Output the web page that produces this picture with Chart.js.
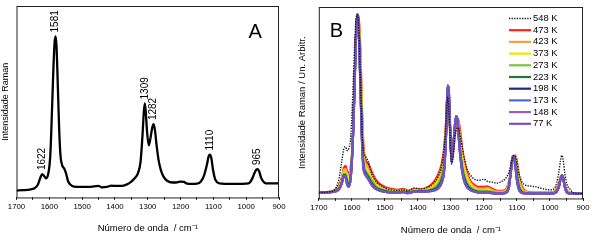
<!DOCTYPE html>
<html>
<head>
<meta charset="utf-8">
<script src="https://cdn.jsdelivr.net/npm/chart.js@4"></script>
<style>
  body { margin: 0; background: #fff; width: 594px; height: 243px; overflow: hidden; position: relative; }
  .painel { position: absolute; top: 0; width: 297px; height: 243px; }
  #painelA { left: 0; }
  #painelB { left: 297px; }
</style>
</head>
<body>
<div class="painel" id="painelA"><canvas id="graficoA"></canvas></div>
<div class="painel" id="painelB"><canvas id="graficoB"></canvas></div>
<script>
// ---- Painel A : espectro Raman ----
const numeroOndaA = [1700,1680,1660,1645,1635,1628,1622,1616,1610,1603,1597,1592,1588,1584,1581,1578,1574,1570,1566,1561,
  1555,1549,1543,1535,1525,1500,1475,1450,1440,1425,1410,1400,1380,1365,1350,1340,1330,1322,1316,1312,
  1309,1306,1302,1297,1292,1286,1282,1278,1273,1267,1260,1252,1240,1225,1210,1200,1190,1180,1165,1150,
  1138,1128,1120,1114,1110,1106,1101,1095,1088,1075,1050,1025,1000,990,982,975,970,965,960,955,948,940,925,900];
const intensidadeA = [3.6,3.8,4.1,4.8,6.6,10,12.2,11.2,10,12.6,22,44.5,65,80.7,84.1,79,58,35.9,22,16.9,
  15.2,12.6,8.6,6.6,5.7,5.5,5.5,6,5.3,5.5,6.2,6,6,6.7,8.3,10,12.6,18.6,32.4,44.5,
  49.1,44.5,34.1,27.2,30.7,36.7,38.3,35,27.2,19.5,14.3,10.9,8.6,7.8,7.9,8.3,8.1,7.2,7.1,7.2,
  8.3,11.7,16.9,21.7,22.4,20.3,14.3,9.7,7.9,7.2,7.1,7.1,7.2,7.6,9.7,12.6,14.3,14.8,13.4,10.5,8.3,7.4,7.3,7.4];
const picosA = [1622, 1581, 1309, 1282, 1110, 965];

// ---- Painel B : espectros em varias temperaturas ----
const numeroOndaB = [1700,1670,1650,1638,1630,1624,1619,1614,1609,1603,1597,1592,1588,1584,1581,1578,1574,1570,1565,1558,
  1550,1540,1528,1515,1500,1480,1460,1445,1430,1410,1395,1375,1355,1340,1328,1320,1314,1310,1306,1302,
  1298,1293,1288,1284,1280,1276,1271,1265,1258,1250,1240,1228,1215,1200,1190,1175,1160,1145,1132,1124,
  1118,1113,1109,1105,1100,1094,1086,1075,1060,1040,1020,1000,988,980,973,968,964,960,955,948,940,930,915,900];
const temperaturasB = ["548 K","473 K","423 K","373 K","273 K","223 K","198 K","173 K","148 K","77 K"];

const int548 = [3,3.5,5,11,20, 26,27,25,26,33, 55,78,92,96,94, 85,62,40,25,22, 19,13,9,7,5.5, 4.5,4.2,4.5,4,5.5,
  5,5.5,7.5,11,17, 28,42,53,46,30, 18,22,32,36,37, 36,32,26,20,15, 12,10,9.5,10,9, 8.5,8,9,11,14,
  18,21,22.5,22,19, 13,9,7,6.5,6, 5,4.5,5,8,14, 20,22.5,20,13,7, 5,3,2.5,2.5];
const int473 = [3,3.5,4.5,7,11, 16,17,14,13.5,17, 30,55,80,94,96, 92,78,52,28,20, 18,14,10,7.5,6, 5,4.5,5,4,5,
  4.8,5.5,8,12,18, 27,42,52,48,33, 20,24,33,39,42, 40,34,25,18,13, 9,7,6,6,6.3, 5,4,4,5,9,
  14,19,22,22.5,19, 12,6.5,4,3.2,3, 3,3,3.5,5,8, 11,12,11,7,4, 3,2.8,2.7,2.7];
const int423 = [3,3.4,4.2,6.5,10, 15,15.5,12.5,12,16, 30,56,81,95,96, 90,74,48,25,18, 16,12.5,8.5,6.5,5.2, 4.5,4,4.5,3.7,4.6,
  4.4,5,7,10.5,16, 24,40,54,51,34, 20,25,34,40,42, 38,31,23,16,11.5, 8,6,5.2,5.2,5.5, 4.3,3.6,3.6,4.5,8.5,
  14,20,22,22,18, 10.5,5.5,3.6,3,2.8, 2.8,2.8,3.3,4.6,7.5, 11,12,11,6.8,3.7, 2.9,2.7,2.6,2.6];
const int373 = [3,3.3,4,6,9.5, 14,14,11,10.5,15, 30,56,81,95,96, 88,70,44,22,16, 14,11,7.5,6,4.8, 4,3.7,4.2,3.4,4.3,
  4.2,4.6,6,9,14, 22,39,55,52,34, 20,26,35,41,42, 36,28,20,14,10, 7,5.2,4.5,4.5,4.8, 3.8,3.2,3.2,4,8,
  14,20,22,21.5,16, 9,4.8,3.3,2.8,2.7, 2.7,2.7,3.1,4.3,7, 10.5,12,10.8,6.5,3.5, 2.8,2.6,2.6,2.6];
const int273 = [3,3.3,3.9,5.6,9, 13,13,9.5,9,13.5, 30,57,81,95,95, 86,66,40,20,14.5, 12.5,9.5,6.5,5,4.3, 3.6,3.4,3.8,3.2,4,
  4,4.2,5.2,7.5,12, 20,38,57,53,34, 20,26,36,42,42, 34,25,17,11.5,8, 5.8,4.5,4,4,4, 3.4,3,3,3.6,7.5,
  14.5,21,22,20,14, 7.5,4,3,2.7,2.6, 2.6,2.6,2.9,4,6.8, 10.3,12,10.6,6.3,3.3, 2.7,2.6,2.5,2.5];
const int223 = [3,3.2,3.8,5.3,8.6, 12.3,12,8.5,7.5,12.5, 30,57,82,96,95, 84,63,37,18,13.5, 11.3,8.3,5.8,4.6,3.9, 3.3,3.2,3.5,3,3.8,
  3.8,3.9,4.6,6.2,10, 17,37,59,54,34, 19.5,27,37,43,41, 33,23,15,10,6.8, 5,4,3.5,3.5,3.5, 3,2.8,2.8,3.3,7,
  15,21.5,22,19,12, 6,3.6,2.8,2.6,2.5, 2.5,2.5,2.8,3.8,6.5, 10.2,12,10.6,6.2,3.2, 2.6,2.5,2.5,2.5];
const int198 = [3,3.2,3.7,5.1,8.3, 12,11.5,7.8,6.8,11.8, 30,58,82,96,94.5, 83,60,35,17,12.8, 10.6,7.6,5.4,4.3,3.7, 3.1,3.1,3.4,2.9,3.6,
  3.6,3.7,4.3,5.6,9, 16,36,59,55,35, 19,27,37.5,43,40.5, 32,22,14,9,6.2, 4.6,3.7,3.2,3.2,3.2, 2.8,2.6,2.6,3.1,6.5,
  15,22,22,18,10.5, 5.2,3.3,2.7,2.5,2.5, 2.5,2.5,2.7,3.6,6.2, 10.1,12,10.5,6.1,3.1, 2.6,2.5,2.5,2.5];
const int173 = [3,3.2,3.6,5,8.2, 11.8,11.3,7.4,6.4,11.4, 30,58,82,96,94.3, 82.5,59,34,16.5,12.4, 10.3,7.3,5.2,4.1,3.6, 3,3,3.3,2.8,3.5,
  3.5,3.6,4.1,5.3,8.5, 15.5,36,59,55,35, 19,27,38,43,40.3, 31.5,21.5,13.5,8.5,5.8, 4.4,3.6,3.1,3.1,3.1, 2.7,2.5,2.5,3,6.2,
  15,22,22,17.5,9.8, 4.8,3.1,2.6,2.5,2.5, 2.5,2.5,2.7,3.5,6.1, 10,12,10.5,6,3, 2.6,2.5,2.5,2.5];
const int148 = [3,3.2,3.6,5,8.1, 11.6,11.1,7.2,6.2,11.2, 30,58,82,96,94.1, 82.2,58.5,33.5,16.2,12.2, 10.1,7.1,5.1,4,3.5, 3,3,3.3,2.8,3.5,
  3.5,3.5,4,5.1,8.2, 15.2,36,59,55,35, 19,27,38,43,40.1, 31.2,21.2,13.2,8.2,5.6, 4.3,3.5,3,3,3, 2.7,2.5,2.5,3,6.1,
  15,22,22,17.2,9.4, 4.6,3,2.6,2.5,2.5, 2.5,2.5,2.7,3.5,6, 10,12,10.5,6,3, 2.6,2.5,2.5,2.5];
const int77 = [3,3.2,3.6,5,8, 11.5,11,7,6,11, 30,58,82,96,94, 82,58,33,16,12, 10,7,5,4,3.5, 3,3,3.3,2.8,3.5,
  3.5,3.5,4,5,8, 15,36,59,55,35, 19,27,38,43,40, 31,21,13,8,5.5, 4.2,3.5,3,3,3, 2.7,2.5,2.5,3,6,
  15,22,22,17,9, 4.5,3,2.6,2.5,2.5, 2.5,2.5,2.7,3.5,6, 10,12,10.5,6,3, 2.6,2.5,2.5,2.5];

const coresB = ["#111111","#ff1f1f","#f7a03c","#f2e600","#7cc242","#1b7a3a","#1f2a7a","#4a6cc8","#9c5db8","#7152c4"];

const fonte = "'Liberation Sans', Arial, sans-serif";
Chart.defaults.font.family = fonte;
Chart.defaults.color = "#000";

function pontos(xs, ys) {
  return xs.map((x, i) => ({ x: x, y: ys[i] }));
}

// moldura completa em volta da area do grafico
const moldura = {
  id: "moldura",
  afterDatasetsDraw(chart) {
    const { ctx, chartArea: a } = chart;
    ctx.save();
    ctx.strokeStyle = "#222";
    ctx.lineWidth = 1;
    ctx.strokeRect(a.left + 0.5, a.top + 0.5, a.right - a.left - 1, a.bottom - a.top);
    ctx.restore();
  },
};

function eixoX(padTitulo) {
  return {
    type: "linear",
    reverse: true,
    min: 900,
    max: 1700,
    grid: { display: true, drawOnChartArea: false, drawTicks: true, tickLength: 2.5, color: "#222" },
    border: { display: false },
    ticks: {
      stepSize: 50,
      padding: 2.5,
      maxRotation: 0,
      autoSkip: false,
      font: { size: 7.8 },
      callback: (v) => (v % 100 === 0 ? v : ""),
    },
    title: {
      display: true,
      text: ["Número de onda  / cm\u207B\u00B9"],
      font: { size: 9.5 },
      padding: padTitulo,
    },
  };
}

function eixoY(texto, tamanho, padTitulo) {
  return {
    min: 0,
    max: 100,
    grid: { display: false, drawTicks: false },
    border: { display: false },
    ticks: { display: false },
    title: { display: true, text: texto, font: { size: tamanho }, padding: padTitulo },
  };
}

// ---------- Grafico A ----------
const rotulosA = {
  id: "rotulosA",
  afterDraw(chart) {
    const { ctx, chartArea: a, scales } = chart;
    ctx.save();
    ctx.fillStyle = "#000";
    ctx.font = "10px " + fonte;
    ctx.textAlign = "left";
    ctx.textBaseline = "middle";
    picosA.forEach((pico) => {
      const i = numeroOndaA.indexOf(pico);
      const x = scales.x.getPixelForValue(pico);
      const y = scales.y.getPixelForValue(intensidadeA[i]) - 4;
      ctx.save();
      ctx.translate(x, y);
      ctx.rotate(-Math.PI / 2);
      ctx.fillText(String(pico), 0, 0);
      ctx.restore();
    });
    ctx.font = "20px " + fonte;
    ctx.textBaseline = "alphabetic";
    ctx.fillText("A", a.left + 232, a.top + 32);
    ctx.restore();
  },
};

new Chart(document.getElementById("graficoA"), {
  type: "line",
  data: {
    datasets: [
      {
        data: pontos(numeroOndaA, intensidadeA),
        borderColor: "#000",
        borderWidth: 2.3,
        pointRadius: 0,
        cubicInterpolationMode: "monotone",
      },
    ],
  },
  options: {
    responsive: true,
    maintainAspectRatio: false,
    animation: false,
    layout: { padding: { left: 0, right: 18, top: 6, bottom: 0 } },
    plugins: { legend: { display: false }, tooltip: { enabled: false } },
    scales: {
      x: eixoX({ top: 8, bottom: 9.3 }),
      y: eixoY("Intensidade Raman", 9, { top: 0.6, bottom: 5.1 }),
    },
  },
  plugins: [moldura, rotulosA],
});

// ---------- Grafico B ----------
const legendaB = {
  id: "legendaB",
  afterDraw(chart) {
    const { ctx, chartArea: a } = chart;
    ctx.save();
    ctx.font = "9.4px " + fonte;
    ctx.textBaseline = "middle";
    ctx.textAlign = "left";
    chart.data.datasets.forEach((ds, i) => {
      const y = a.top + 11.5 + i * 11.7;
      const x0 = a.right - 74;
      ctx.strokeStyle = ds.borderColor;
      ctx.lineWidth = ds.borderWidth;
      ctx.setLineDash(ds.borderDash);
      ctx.beginPath();
      ctx.moveTo(x0, y);
      ctx.lineTo(x0 + 22, y);
      ctx.stroke();
      ctx.setLineDash([]);
      ctx.fillStyle = "#000";
      ctx.fillText(ds.label, x0 + 24, y);
    });
    ctx.font = "20px " + fonte;
    ctx.textBaseline = "alphabetic";
    ctx.fillText("B", a.left + 11, a.top + 30);
    ctx.restore();
  },
};

const intensidadesB = [int548, int473, int423, int373, int273, int223, int198, int173, int148, int77];
const datasetsB = intensidadesB.map((valores, i) => ({
  label: temperaturasB[i],
  data: pontos(numeroOndaB, valores),
  borderColor: coresB[i],
  borderWidth: i === 0 ? 1.4 : 2.2,
  borderDash: i === 0 ? [1.3, 1.3] : [],
  pointRadius: 0,
  cubicInterpolationMode: "monotone",
  // 548 K por cima, depois 77 K ... 473 K por baixo
  order: i === 0 ? 0 : intensidadesB.length - i,
}));

new Chart(document.getElementById("graficoB"), {
  type: "line",
  data: { datasets: datasetsB },
  options: {
    responsive: true,
    maintainAspectRatio: false,
    animation: false,
    layout: { padding: { left: 0, right: 11, top: 7, bottom: 0 } },
    plugins: { legend: { display: false }, tooltip: { enabled: false } },
    scales: {
      x: eixoX({ top: 9, bottom: 7.3 }),
      y: eixoY("Intensidade Raman / Un. Arbitr.", 9.5, { top: 0, bottom: 10.4 }),
    },
  },
  plugins: [moldura, legendaB],
});
</script>
</body>
</html>
